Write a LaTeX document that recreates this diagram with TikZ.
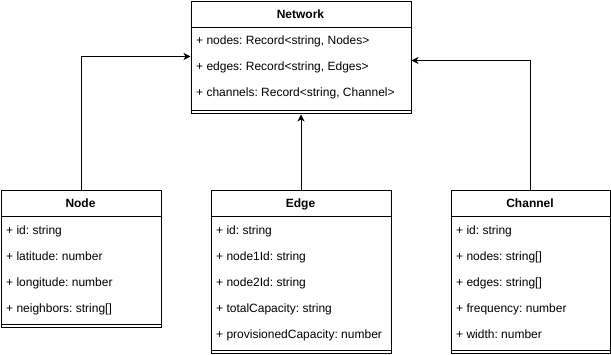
\documentclass[tikz,border=0pt]{standalone}
\usepackage{fontspec}
\setmainfont{Liberation Sans}
\usetikzlibrary{arrows.meta}
\frenchspacing
\begin{document}
\begin{tikzpicture}[x=1pt,y=-1pt,
  classbox/.style={draw=black, line width=1pt, fill=white, inner sep=0pt, anchor=north west},
  rule/.style={draw=black, line width=1pt},
  title/.style={font=\fontsize{12}{14}\selectfont\bfseries, inner sep=0pt, anchor=mid, yshift=-1.5pt},
  attr/.style={font=\fontsize{12}{14}\selectfont, inner sep=0pt, anchor=mid west, yshift=-1.5pt},
  link/.style={draw=black, line width=1pt, -{Stealth[length=7pt,width=7pt,inset=2pt]}}]
\useasboundingbox (0,0) rectangle (611,355);

% class boxes
\node[classbox, minimum width=220pt, minimum height=112pt] (network) at (190.5,1.5) {};
\node[classbox, minimum width=160pt, minimum height=137pt] (node) at (0.5,190.5) {};
\node[classbox, minimum width=180pt, minimum height=163pt] (edge) at (210.5,190.5) {};
\node[classbox, minimum width=159pt, minimum height=163pt] (channel) at (450.5,190.5) {};

% header and separator rules
\foreach \b in {network,node,edge,channel}{
  \draw[rule] ([yshift=-26pt]\b.north west) -- ([yshift=-26pt]\b.north east);
  \draw[rule] ([yshift=4pt]\b.south west) -- ([yshift=4pt]\b.south east);
}

% Network
\node[title] (nettitle) at (300.5,14) {Network};
\node[attr] (net1) at (196,40) {+ nodes: Record<string, Nodes>};
\node[attr] (net2) at (196,66) {+ edges: Record<string, Edges>};
\node[attr] (net3) at (196,92) {+ channels: Record<string, Channel>};

% Node
\node[title] (nodetitle) at (80.5,203) {Node};
\node[attr] (node1) at (6,230) {+ id: string};
\node[attr] (node2) at (6,256) {+ latitude: number};
\node[attr] (node3) at (6,282) {+ longitude: number};
\node[attr] (node4) at (6,308) {+ neighbors: string[]};

% Edge
\node[title] (edgetitle) at (300.5,203) {Edge};
\node[attr] (edge1) at (216,230) {+ id: string};
\node[attr] (edge2) at (216,256) {+ node1Id: string};
\node[attr] (edge3) at (216,282) {+ node2Id: string};
\node[attr] (edge4) at (216,308) {+ totalCapacity: string};
\node[attr] (edge5) at (216,334) {+ provisionedCapacity: number};

% Channel
\node[title] (chantitle) at (530,203) {Channel};
\node[attr] (chan1) at (456,230) {+ id: string};
\node[attr] (chan2) at (456,256) {+ nodes: string[]};
\node[attr] (chan3) at (456,282) {+ edges: string[]};
\node[attr] (chan4) at (456,308) {+ frequency: number};
\node[attr] (chan5) at (456,334) {+ width: number};

% associations
\draw[link] (node.north) |- ([yshift=1.5pt]network.west);
\draw[link] (edge.north) -- (edge.north |- network.south);
\draw[link] (channel.north) |- ([yshift=-2.5pt]network.east);
\end{tikzpicture}
\end{document}
